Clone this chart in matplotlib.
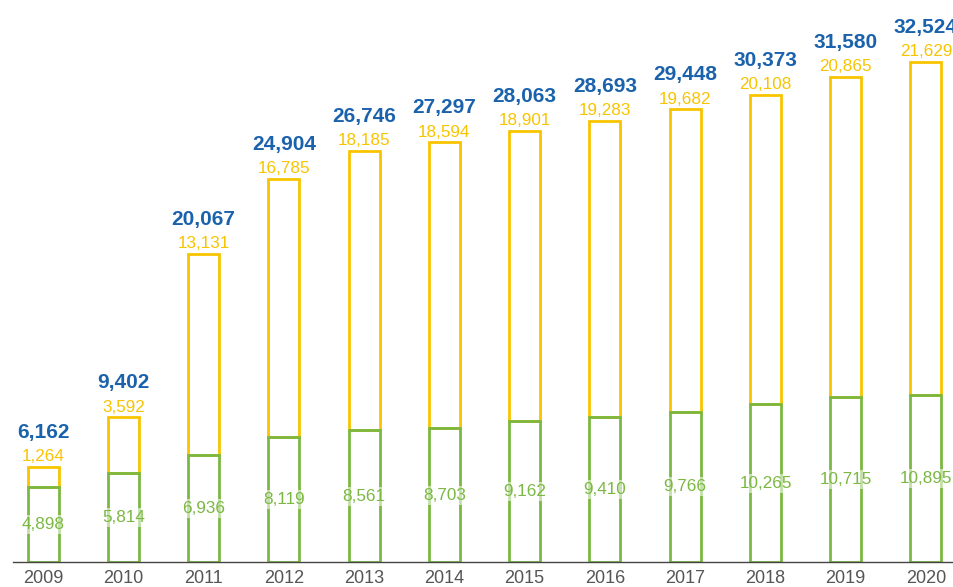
import numpy as np
import matplotlib.pyplot as plt

years = ["2009", "2010", "2011", "2012", "2013", "2014", "2015", "2016",
         "2017", "2018", "2019", "2020"]
green_vals = [4898, 5814, 6936, 8119, 8561, 8703, 9162, 9410, 9766, 10265, 10715, 10895]
yellow_vals = [1264, 3592, 13131, 16785, 18185, 18594, 18901, 19283, 19682, 20108, 20865, 21629]
totals = [6162, 9402, 20067, 24904, 26746, 27297, 28063, 28693, 29448, 30373, 31580, 32524]

GREEN = "#7bb842"
YELLOW = "#f8c400"
BLUE = "#1b62ad"
GREY = "#555555"

plt.rcParams["font.family"] = ["Liberation Sans", "DejaVu Sans"]

fig = plt.figure(figsize=(9.54, 5.87), dpi=100)
ax = fig.add_axes([0, 25 / 587, 1, 562 / 587])

x = np.arange(len(years))
w = 0.386
ax.bar(x, yellow_vals, w, bottom=green_vals, fill=False, edgecolor=YELLOW, linewidth=2)
ax.bar(x, green_vals, w, fill=False, edgecolor=GREEN, linewidth=2)

for i in range(len(years)):
    top = green_vals[i] + yellow_vals[i]
    ax.annotate(f"{yellow_vals[i]:,}", (x[i], top), xytext=(0, 2), textcoords="offset points",
                ha="center", va="bottom", color=YELLOW, fontsize=12.3)
    ax.annotate(f"{totals[i]:,}", (x[i], top), xytext=(0, 18), textcoords="offset points",
                ha="center", va="bottom", color=BLUE, fontsize=15, fontweight="bold")
    ax.text(x[i], green_vals[i] / 2, f"{green_vals[i]:,}", ha="center", va="center",
            color=GREEN, fontsize=12.3,
            bbox=dict(facecolor="white", edgecolor="none", alpha=0.55, pad=1.5))

ax.set_xlim(-0.536, 11.349)
ax.set_ylim(0, 36558)
ax.set_xticks(x)
ax.set_xticklabels(years, fontsize=13, color=GREY)
ax.tick_params(axis="x", length=0, pad=6)
ax.set_yticks([])
for s in ["top", "right", "left"]:
    ax.spines[s].set_visible(False)
ax.spines["bottom"].set_color("#444444")
ax.spines["bottom"].set_linewidth(1)
ax.spines["bottom"].set_bounds(-0.37, 11.349)

fig.savefig("out.png", dpi=100)
